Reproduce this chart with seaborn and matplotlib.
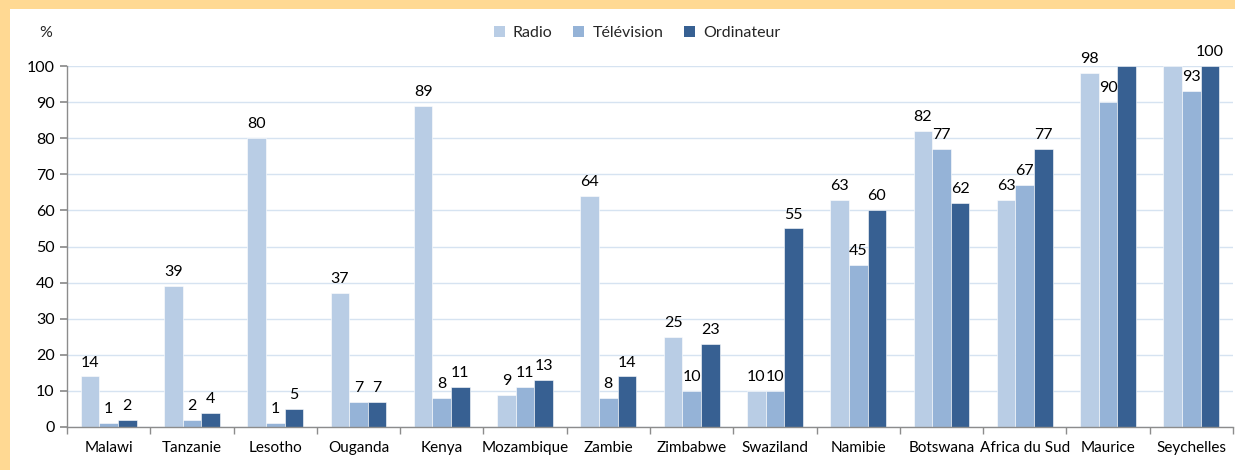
import matplotlib
matplotlib.use("Agg")
import matplotlib.pyplot as plt
import seaborn as sns
import pandas as pd
import numpy as np
from matplotlib.patches import Rectangle

countries = ["Malawi", "Tanzanie", "Lesotho", "Ouganda", "Kenya", "Mozambique", "Zambie",
             "Zimbabwe", "Swaziland", "Namibie", "Botswana", "Africa du Sud", "Maurice", "Seychelles"]
series = ["Radio", "Télévision", "Ordinateur"]
radio = [14, 39, 80, 37, 89, 9, 64, 25, 10, 63, 82, 63, 98, 100]
television = [1, 2, 1, 7, 8, 11, 8, 10, 10, 45, 77, 67, 90, 93]
ordinateur = [2, 4, 5, 7, 11, 13, 14, 23, 55, 60, 62, 77, 100, 100]
# labels hidden in the reference (Seychelles radio, Maurice ordinateur)
hidden = {"Radio": ["Seychelles"], "Télévision": [], "Ordinateur": ["Maurice"]}
colors = ["#B9CDE5", "#95B3D7", "#376092"]

df = pd.DataFrame({
    "pays": countries * 3,
    "serie": [s for s in series for _ in countries],
    "valeur": radio + television + ordinateur,
})

sns.set_theme(style="white")
plt.rcParams["font.family"] = ["Lato", "DejaVu Sans"]

fig = plt.figure(figsize=(12.35, 4.70), dpi=100)
fig.patch.set_facecolor("white")
W, H = 1235, 470
ax = fig.add_axes([67 / W, 1 - 427 / H, (1233 - 67) / W, (427 - 66) / H])

sns.barplot(data=df, x="pays", y="valeur", hue="serie", order=countries, hue_order=series,
            palette=colors, width=0.67, gap=0, saturation=1, ax=ax, legend=False,
            edgecolor="white", linewidth=0.4)

ax.set_ylim(0, 100)
ax.set_xlim(-0.5, len(countries) - 0.5)
ax.set_yticks(np.arange(0, 101, 10))
ax.yaxis.grid(True, color="#D6E3F1", linewidth=1)
ax.set_axisbelow(True)
ax.set_xlabel("")
ax.set_ylabel("")
for s in ["top", "right"]:
    ax.spines[s].set_visible(False)
for s in ["left", "bottom"]:
    ax.spines[s].set_color("#8C8C8C")
    ax.spines[s].set_linewidth(1)

ax.tick_params(axis="y", which="major", length=5, color="#8C8C8C", labelsize=11.5,
               labelcolor="#000000", pad=4, left=True)
ax.tick_params(axis="x", which="major", length=0, labelsize=11, labelcolor="#000000", pad=10)
ax.set_xticks(np.arange(-0.5, len(countries)), minor=True)
ax.tick_params(axis="x", which="minor", length=5, color="#8C8C8C", bottom=True)

for cont, s in zip(ax.containers, series):
    labs = []
    for c, v in zip(countries, df[df.serie == s]["valeur"]):
        labs.append("" if c in hidden[s] else f"{v:g}")
    ax.bar_label(cont, labels=labs, padding=5, fontsize=11.5, color="#000000")

fig.text(46 / W, 1 - 33 / H, "%", ha="center", va="center", fontsize=11.5)

handles = [Rectangle((0, 0), 1, 1, facecolor=c, edgecolor="none") for c in colors]
fig.legend(handles, series, loc="center", bbox_to_anchor=(637 / W, 1 - 33 / H), ncol=3,
           frameon=False, fontsize=11.5, handlelength=0.7, handleheight=0.7,
           handletextpad=0.5, columnspacing=1.3)

# orange frame (top and left edges)
border = "#FFD993"
fig.patches.append(Rectangle((0, 1 - 9 / H), 1, 9 / H, transform=fig.transFigure,
                             facecolor=border, edgecolor="none", zorder=-1))
fig.patches.append(Rectangle((0, 0), 10 / W, 1, transform=fig.transFigure,
                             facecolor=border, edgecolor="none", zorder=-1))

fig.savefig("out.png", dpi=100)
